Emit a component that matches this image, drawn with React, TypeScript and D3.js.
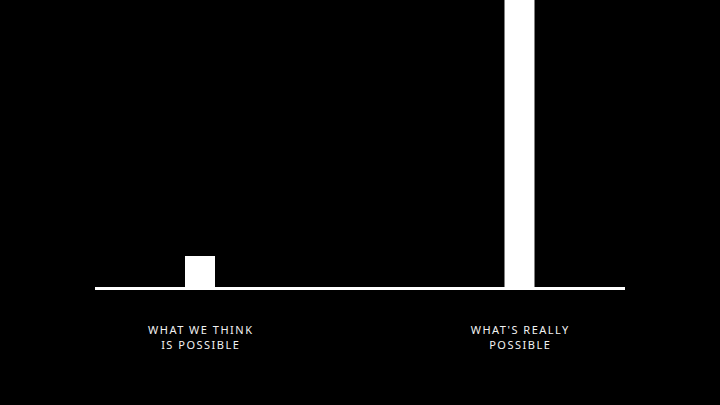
import React from "react";
import * as d3 from "d3";

const categories = ["WHAT WE THINK|IS POSSIBLE", "WHAT'S REALLY|POSSIBLE"];
const values = [1, 10];

const W = 720;
const H = 405;

export default function App() {
  const x = d3.scalePoint<string>().domain(categories).range([200, 519.5]);
  const y = d3.scaleLinear().domain([0, 1]).range([287, 256]);
  const barW = 30;
  return (
    <div style={{ position: "absolute", left: 0, top: 0, width: W, height: H, background: "#000" }}>
      <svg width={W} height={H} style={{ display: "block" }}>
        <rect x={0} y={0} width={W} height={H} fill="#000" />
        {categories.map((c, i) => (
          <rect
            key={c}
            x={(x(c) as number) - barW / 2}
            y={y(values[i])}
            width={barW}
            height={y(0) - y(values[i])}
            fill="#fff"
          />
        ))}
        <line x1={95} x2={625} y1={288.5} y2={288.5} stroke="#fff" strokeWidth={3} />
        {categories.map((c) => (
          <text
            key={c + "t"}
            x={x(c) as number}
            y={334}
            fill="#f2f2f2"
            textAnchor="middle"
            style={{ fontFamily: "Noto Sans", fontSize: 11, letterSpacing: "1.5px" }}
          >
            {c.split("|").map((line, j) => (
              <tspan key={j} x={(x(c) as number) + 0.75} dy={j === 0 ? 0 : 15}>
                {line}
              </tspan>
            ))}
          </text>
        ))}
      </svg>
    </div>
  );
}
